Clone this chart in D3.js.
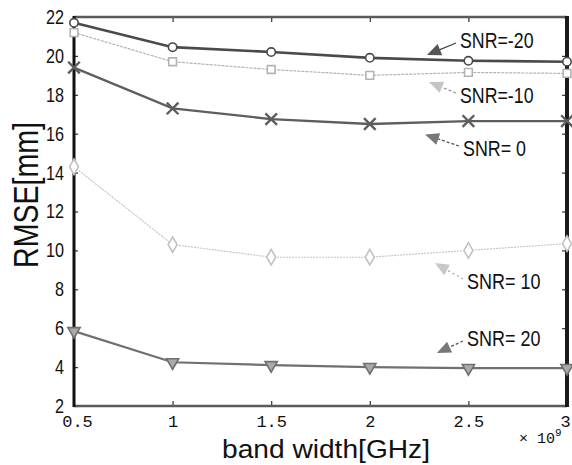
<!DOCTYPE html>
<html>
<head>
<meta charset="utf-8">
<script src="https://cdn.jsdelivr.net/npm/d3@7"></script>
<style>
  body { margin: 0; background: #fff; }
  text { font-family: "Liberation Sans", "DejaVu Sans", sans-serif; fill: #111; }
</style>
</head>
<body>
<div id="wrapper"></div>
<script>
// DATA
const bandWidth = [0.5, 1, 1.5, 2, 2.5, 3];
const snrMinus20 = [21.7, 20.45, 20.2, 19.9, 19.75, 19.7];
const snrMinus10 = [21.2, 19.7, 19.3, 19.0, 19.15, 19.1];
const snr0 = [19.4, 17.3, 16.75, 16.5, 16.65, 16.65];
const snr10 = [14.3, 10.3, 9.65, 9.65, 10.0, 10.35];
const snr20 = [5.85, 4.25, 4.1, 4.0, 3.95, 3.95];
const yTicks = [2, 4, 6, 8, 10, 12, 14, 16, 18, 20, 22];
const xTicks = [0.5, 1, 1.5, 2, 2.5, 3];
const seriesLabels = ["SNR=-20", "SNR=-10", "SNR= 0", "SNR= 10", "SNR= 20"];
// where each annotation arrow points, [band width, RMSE]
const arrowTargets = [[2.29, 20.05], [2.30, 18.66], [2.28, 15.96], [2.33, 9.35], [2.34, 4.73]];

const styles = [
  { marker: "circle", color: "#4a4a4a", width: 2.6, textAt: [460, 40], lead: "none", head: "#555" },
  { marker: "square", color: "#b3b3b3", width: 1.2, dash: "3,1", textAt: [460, 95], lead: "3,2", head: "#c4c4c4", leadColor: "#999" },
  { marker: "cross", color: "#5e5e5e", width: 2.3, textAt: [463, 148], lead: "3,2", head: "#777", leadColor: "#555" },
  { marker: "diamond", color: "#c2c2c2", width: 1.1, dash: "2,1", textAt: [467, 281], lead: "2,3", head: "#c8c8c8", leadColor: "#aaa" },
  { marker: "triangle", color: "#707070", width: 2.2, textAt: [467, 338], lead: "3,2", head: "#777", leadColor: "#555" },
];
const seriesValues = [snrMinus20, snrMinus10, snr0, snr10, snr20];

const dimensions = {
  width: 572,
  height: 465,
  margin: { top: 17, right: 5, bottom: 59, left: 74 },
};
dimensions.boundedWidth = dimensions.width - dimensions.margin.left - dimensions.margin.right;
dimensions.boundedHeight = dimensions.height - dimensions.margin.top - dimensions.margin.bottom;

const svg = d3.select("#wrapper").append("svg")
  .attr("width", dimensions.width)
  .attr("height", dimensions.height);

const bounds = svg.append("g")
  .attr("transform", `translate(${dimensions.margin.left},${dimensions.margin.top})`);

const xScale = d3.scaleLinear().domain([0.5, 3]).range([0, dimensions.boundedWidth]);
const yScale = d3.scaleLinear().domain([2, 22]).range([dimensions.boundedHeight, 0]);

// axes with inward ticks
const yAxis = bounds.append("g")
  .call(d3.axisLeft(yScale).tickValues(yTicks).tickSizeInner(-4).tickSizeOuter(0).tickPadding(10).tickFormat(d3.format("d")));
const yAxisRight = bounds.append("g")
  .attr("transform", `translate(${dimensions.boundedWidth},0)`)
  .call(d3.axisRight(yScale).tickValues(yTicks).tickSizeInner(-5).tickSizeOuter(0).tickFormat(""));
const xAxis = bounds.append("g")
  .attr("transform", `translate(0,${dimensions.boundedHeight})`)
  .call(d3.axisBottom(xScale).tickValues(xTicks).tickSizeInner(-5).tickSizeOuter(0).tickPadding(8).tickFormat(d => d));
const xAxisTop = bounds.append("g")
  .call(d3.axisTop(xScale).tickValues(xTicks).tickSizeInner(-5).tickSizeOuter(0).tickFormat(""));

[yAxis, yAxisRight, xAxis, xAxisTop].forEach(a => {
  a.select(".domain").remove();
  a.selectAll(".tick line").attr("stroke", "#333").attr("stroke-width", 1.2);
  a.selectAll("text").attr("fill", "#111");
});
yAxis.selectAll("text")
  .attr("font-size", 20)
  .attr("textLength", d => (String(d).length === 1 ? 9 : 18))
  .attr("lengthAdjust", "spacingAndGlyphs");
xAxis.selectAll("text")
  .style("font-family", '"Liberation Mono", "DejaVu Sans Mono", monospace')
  .attr("font-size", 17)
  .attr("dy", "0.75em");
xAxis.selectAll(".tick").filter(d => d === 0.5).select("text").attr("dx", 3);
xAxis.selectAll(".tick").filter(d => d === 3).select("text").attr("dx", -2);

// frame: top/bottom gray, left/right black
bounds.append("line").attr("x1", 0).attr("x2", dimensions.boundedWidth).attr("y1", 0).attr("y2", 0)
  .attr("stroke", "#5a5a5a").attr("stroke-width", 2.6);
bounds.append("line").attr("x1", 0).attr("x2", dimensions.boundedWidth)
  .attr("y1", dimensions.boundedHeight).attr("y2", dimensions.boundedHeight)
  .attr("stroke", "#5a5a5a").attr("stroke-width", 2.6);
bounds.append("line").attr("x1", 0).attr("x2", 0).attr("y1", -1).attr("y2", dimensions.boundedHeight + 1)
  .attr("stroke", "#111").attr("stroke-width", 3);
bounds.append("line").attr("x1", dimensions.boundedWidth).attr("x2", dimensions.boundedWidth)
  .attr("y1", -1).attr("y2", dimensions.boundedHeight + 1)
  .attr("stroke", "#1a1a1a").attr("stroke-width", 4);

// lines
const lineGenerator = d3.line()
  .x((d, i) => xScale(bandWidth[i]))
  .y(d => yScale(d));

const symbolFor = {
  circle: d3.symbol().type(d3.symbolCircle).size(55),
  square: d3.symbol().type(d3.symbolSquare).size(60),
  cross: d3.symbol().type(d3.symbolX).size(90),
  diamond: d3.symbol().type(d3.symbolDiamond).size(70),
  triangle: d3.symbol().type(d3.symbolTriangle).size(65),
};

seriesValues.forEach((values, k) => {
  const s = styles[k];
  bounds.append("path")
    .attr("d", lineGenerator(values))
    .attr("fill", "none")
    .attr("stroke", s.color)
    .attr("stroke-width", s.width)
    .attr("stroke-dasharray", s.dash || null);

  bounds.selectAll(null)
    .data(values)
    .join("path")
    .attr("d", symbolFor[s.marker])
    .attr("transform", (d, i) => `translate(${xScale(bandWidth[i])},${yScale(d)})${s.marker === "triangle" ? " rotate(180)" : ""}`)
    .attr("fill", s.marker === "triangle" ? "#aaa" : "#fff")
    .attr("stroke", s.color)
    .attr("stroke-width", s.marker === "cross" ? 2.4 : 1.6);
});

// annotations: text + leader line + filled arrow head
const ann = svg.append("g");
seriesLabels.forEach((label, k) => {
  const s = styles[k];
  const [tx, ty] = s.textAt;
  const hx = xScale(arrowTargets[k][0]) + dimensions.margin.left;
  const hy = yScale(arrowTargets[k][1]) + dimensions.margin.top;
  ann.append("text")
    .attr("x", tx).attr("y", ty)
    .attr("dy", "0.36em")
    .attr("font-size", 22)
    .attr("textLength", label.length * 10.5)
    .attr("lengthAdjust", "spacingAndGlyphs")
    .text(label);
  const sx = tx - 4, sy = ty + (hy > ty ? 3 : -2);
  const ang = Math.atan2(hy - sy, hx - sx);
  const len = 14;
  const bx = hx - len * Math.cos(ang), by = hy - len * Math.sin(ang);
  ann.append("line")
    .attr("x1", sx).attr("y1", sy).attr("x2", bx).attr("y2", by)
    .attr("stroke", s.leadColor || "#444")
    .attr("stroke-width", 1.3)
    .attr("stroke-dasharray", s.lead === "none" ? null : s.lead);
  const w = 6;
  const px = -Math.sin(ang) * w, py = Math.cos(ang) * w;
  ann.append("path")
    .attr("d", `M${hx},${hy}L${bx + px},${by + py}L${bx - px},${by - py}Z`)
    .attr("fill", s.head);
});

// axis titles
svg.append("text")
  .attr("x", 326).attr("y", 449)
  .attr("text-anchor", "middle")
  .attr("dy", "0.36em")
  .attr("font-size", 26)
  .attr("textLength", 208)
  .attr("lengthAdjust", "spacingAndGlyphs")
  .text("band width[GHz]");

svg.append("text")
  .attr("transform", "translate(25,195) rotate(-90)")
  .attr("text-anchor", "middle")
  .attr("dy", "0.36em")
  .attr("font-size", 35)
  .attr("textLength", 146)
  .attr("lengthAdjust", "spacingAndGlyphs")
  .text("RMSE[mm]");

const mult = svg.append("text")
  .attr("x", 519).attr("y", 443)
  .attr("font-size", 15)
  .style("font-family", '"Liberation Mono", "DejaVu Sans Mono", monospace');
mult.append("tspan").text("× 10");
mult.append("tspan").attr("dy", -7).attr("font-size", 11).text("9");
</script>
</body>
</html>
